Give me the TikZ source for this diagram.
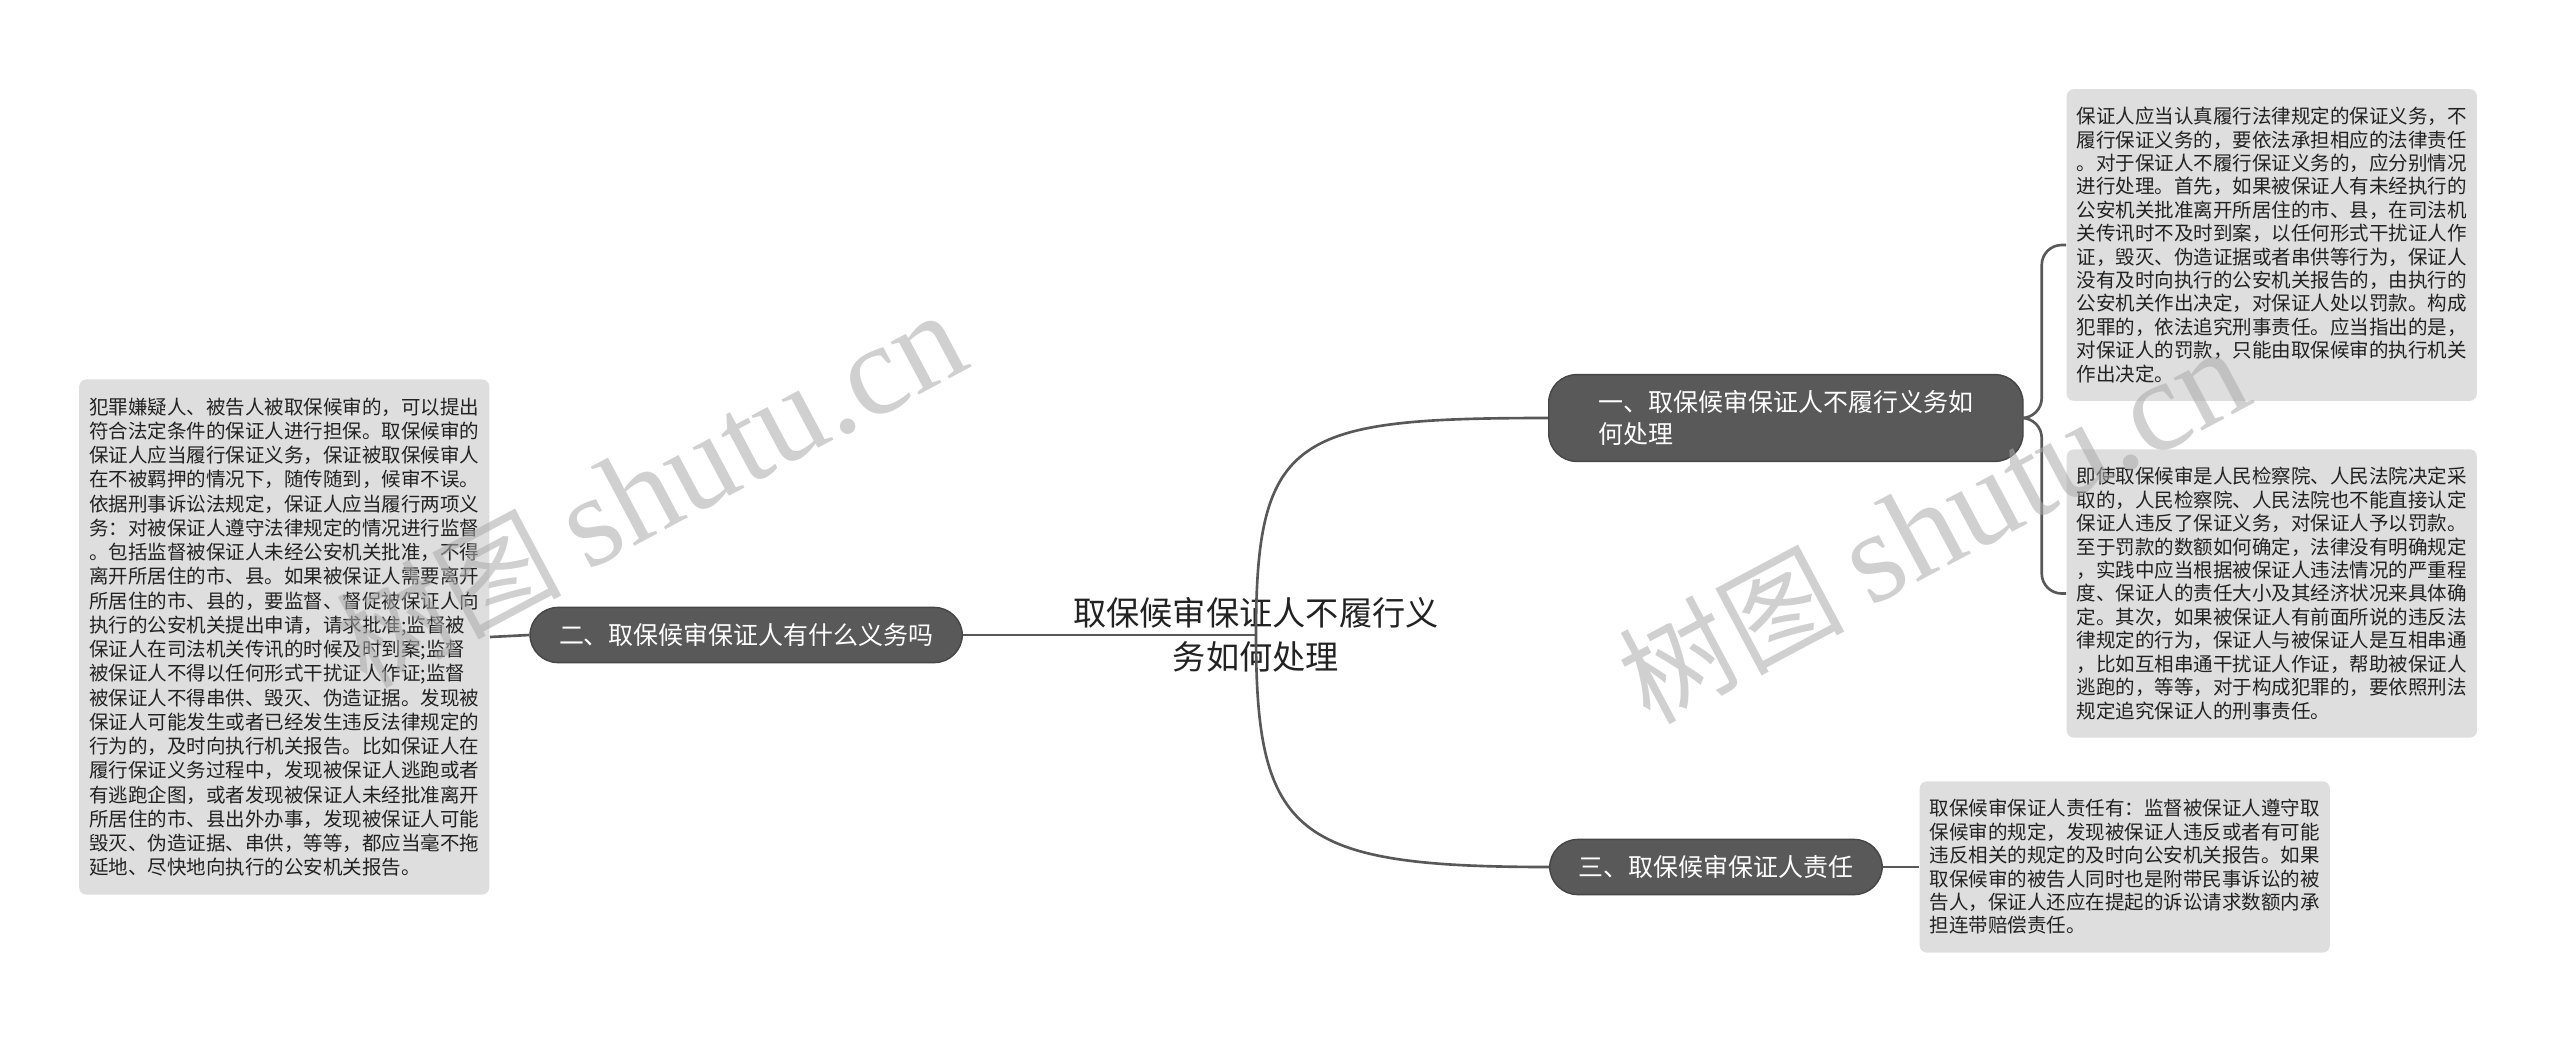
\documentclass[tikz,border=0pt]{standalone}
\usepackage{fontspec}
\setmainfont{Noto Sans CJK SC}
\newfontfamily\wmlatin{Liberation Serif}
\usetikzlibrary{positioning,calc}
\definecolor{pillGray}{RGB}{89,89,89}
\definecolor{pillEdge}{RGB}{70,70,70}
\definecolor{noteGray}{RGB}{222,222,222}
\definecolor{noteText}{RGB}{34,34,34}
\definecolor{lineGray}{RGB}{88,88,88}
\definecolor{markGray}{RGB}{170,170,170}

\begin{document}
\begin{tikzpicture}[
    topicpill/.style={draw=pillEdge, fill=pillGray, rounded corners=0.28cm,
      text=white, font=\fontsize{7.1pt}{9pt}\selectfont,
      inner xsep=0.29cm, inner ysep=0.16cm, align=left},
    notebox/.style={fill=noteGray, rounded corners=0.07cm, text=noteText,
      font=\fontsize{5.55pt}{6.66pt}\selectfont,
      inner xsep=0.1cm, inner ysep=0.18cm, align=left},
    rootlabel/.style={font=\fontsize{9.45pt}{12.5pt}\selectfont, align=center,
      text=noteText},
    branch/.style={draw=lineGray, line width=0.75pt},
    wmark/.style={text=markGray, opacity=0.55, rotate=28,
      font=\fontsize{32pt}{32pt}\selectfont}
  ]
  \fill[white] (0,0) rectangle (25.6,-10.36);
  \useasboundingbox (0,0) rectangle (25.6,-10.36);

  % central topic and the three branches
  \node[rootlabel] (root) at (12.56,-6.35)
    {取保候审保证人不履行义\\务如何处理};
  \node[topicpill, anchor=west, inner xsep=0.5cm] (one) at (15.48,-4.18)
    {一、取保候审保证人不履行义务如\\何处理};
  \node[topicpill, anchor=east] (two) at (9.63,-6.35)
    {二、取保候审保证人有什么义务吗};
  \node[topicpill, anchor=west] (three) at (15.49,-8.67)
    {三、取保候审保证人责任};

  % notes
  \node[notebox, anchor=east, font=\fontsize{5.55pt}{6.9pt}\selectfont] (twonote) at (4.90,-6.37)
    {犯罪嫌疑人、被告人被取保候审的，可以提出\\
     符合法定条件的保证人进行担保。取保候审的\\
     保证人应当履行保证义务，保证被取保候审人\\
     在不被羁押的情况下，随传随到，候审不误。\\
     依据刑事诉讼法规定，保证人应当履行两项义\\
     务：对被保证人遵守法律规定的情况进行监督\\
     。包括监督被保证人未经公安机关批准，不得\\
     离开所居住的市、县。如果被保证人需要离开\\
     所居住的市、县的，要监督、督促被保证人向\\
     执行的公安机关提出申请，请求批准;监督被\\
     保证人在司法机关传讯的时候及时到案;监督\\
     被保证人不得以任何形式干扰证人作证;监督\\
     被保证人不得串供、毁灭、伪造证据。发现被\\
     保证人可能发生或者已经发生违反法律规定的\\
     行为的，及时向执行机关报告。比如保证人在\\
     履行保证义务过程中，发现被保证人逃跑或者\\
     有逃跑企图，或者发现被保证人未经批准离开\\
     所居住的市、县出外办事，发现被保证人可能\\
     毁灭、伪造证据、串供，等等，都应当毫不拖\\
     延地、尽快地向执行的公安机关报告。};
  \node[notebox, anchor=west] (onenoteA) at (20.66,-2.45)
    {保证人应当认真履行法律规定的保证义务，不\\
     履行保证义务的，要依法承担相应的法律责任\\
     。对于保证人不履行保证义务的，应分别情况\\
     进行处理。首先，如果被保证人有未经执行的\\
     公安机关批准离开所居住的市、县，在司法机\\
     关传讯时不及时到案，以任何形式干扰证人作\\
     证，毁灭、伪造证据或者串供等行为，保证人\\
     没有及时向执行的公安机关报告的，由执行的\\
     公安机关作出决定，对保证人处以罚款。构成\\
     犯罪的，依法追究刑事责任。应当指出的是，\\
     对保证人的罚款，只能由取保候审的执行机关\\
     作出决定。};
  \node[notebox, anchor=west] (onenoteB) at (20.66,-5.935)
    {即使取保候审是人民检察院、人民法院决定采\\
     取的，人民检察院、人民法院也不能直接认定\\
     保证人违反了保证义务，对保证人予以罚款。\\
     至于罚款的数额如何确定，法律没有明确规定\\
     ，实践中应当根据被保证人违法情况的严重程\\
     度、保证人的责任大小及其经济状况来具体确\\
     定。其次，如果被保证人有前面所说的违反法\\
     律规定的行为，保证人与被保证人是互相串通\\
     ，比如互相串通干扰证人作证，帮助被保证人\\
     逃跑的，等等，对于构成犯罪的，要依照刑法\\
     规定追究保证人的刑事责任。};
  \node[notebox, anchor=west] (threenote) at (19.19,-8.67)
    {取保候审保证人责任有：监督被保证人遵守取\\
     保候审的规定，发现被保证人违反或者有可能\\
     违反相关的规定的及时向公安机关报告。如果\\
     取保候审的被告人同时也是附带民事诉讼的被\\
     告人，保证人还应在提起的诉讼请求数额内承\\
     担连带赔偿责任。};

  % connectors
  \draw[branch] (two.east) -- (root.center);
  \draw[branch] (root.center) .. controls (12.56,-4.35) and (12.95,-4.18) .. (one.west);
  \draw[branch] (root.center) .. controls (12.56,-8.35) and (12.95,-8.67) .. (three.west);
  \draw[branch] (twonote.east) -- (two.west);
  \draw[branch] (three.east) -- (threenote.west);
  \draw[branch, rounded corners=0.2cm] (one.east) -- ++(0.18,0) |- (onenoteA.west);
  \draw[branch, rounded corners=0.2cm] (one.east) -- ++(0.18,0) |- (onenoteB.west);

  % watermarks
  \node[wmark] (markL) at (6.50,-4.90) {树图 {\wmlatin\fontsize{37pt}{37pt}\selectfont shutu.cn}};
  \node[wmark] (markR) at (19.33,-5.26) {树图 {\wmlatin\fontsize{37pt}{37pt}\selectfont shutu.cn}};
\end{tikzpicture}
\end{document}
